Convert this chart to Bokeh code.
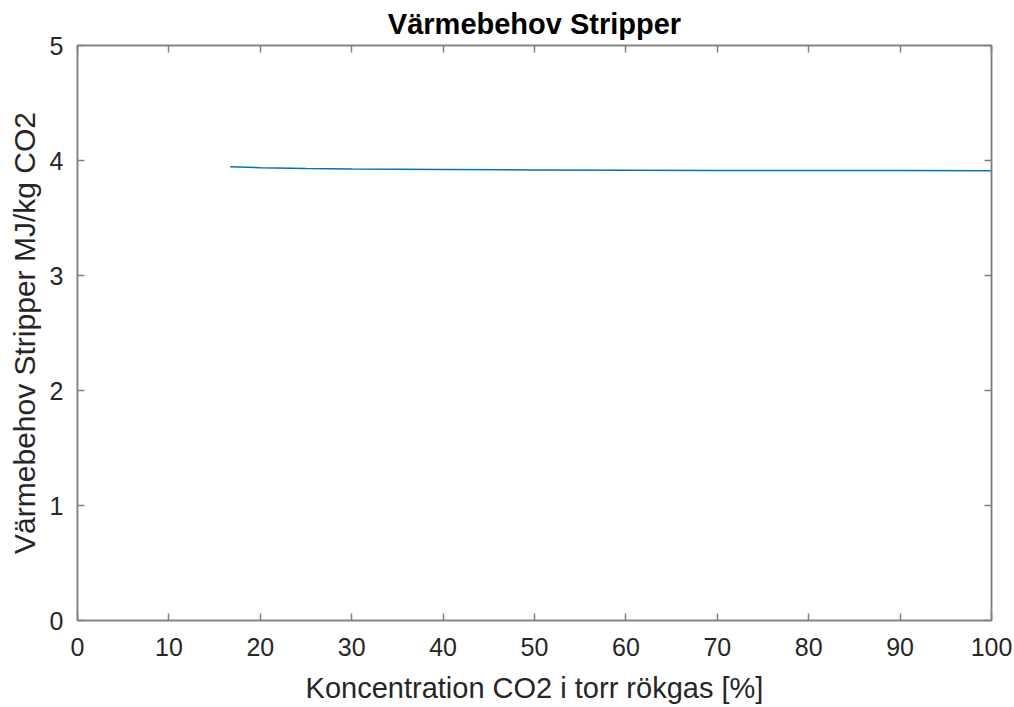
from bokeh.plotting import figure
from bokeh.models import LinearAxis, Range1d, FixedTicker
from bokeh.embed import file_html
from bokeh.resources import INLINE

title_text = "Värmebehov Stripper"
x_label = "Koncentration CO2 i torr rökgas [%]"
y_label = "Värmebehov Stripper MJ/kg CO2"

conc = [16.7, 20, 25, 30, 40, 50, 60, 70, 80, 90, 100]
heat = [3.945, 3.937, 3.930, 3.926, 3.921, 3.918, 3.916, 3.914, 3.913, 3.912, 3.911]

x_ticks = [0, 10, 20, 30, 40, 50, 60, 70, 80, 90, 100]
y_ticks = [0, 1, 2, 3, 4, 5]

FONT = "Liberation Sans"
TXT = "#262626"
AX = "#7f7f7f"

p = figure(frame_width=914, frame_height=575, output_backend="svg", toolbar_location=None,
           x_range=Range1d(0, 100), y_range=Range1d(0, 5),
           min_border_left=77, min_border_right=23, min_border_top=44, min_border_bottom=88,
           x_axis_location=None, y_axis_location=None)
p.title.text = title_text
p.title.align = "center"
p.title.text_font = FONT
p.title.text_font_size = "29px"
p.title.text_font_style = "bold"
p.title.text_color = "#000000"
p.title.standoff = 11

p.grid.visible = False
p.outline_line_color = AX
p.outline_line_width = 1.5
p.background_fill_color = "white"
p.border_fill_color = "white"

def style(ax, labels=True):
    ax.axis_line_color = AX
    ax.axis_line_width = 1.5
    ax.major_tick_in = 7
    ax.major_tick_out = 0
    ax.major_tick_line_color = AX
    ax.major_tick_line_width = 1.5
    ax.minor_tick_line_color = None
    ax.major_label_text_font = FONT
    ax.major_label_text_color = TXT
    if labels:
        ax.major_label_text_font_size = "25px"
    else:
        ax.major_label_text_font_size = "0px"
        ax.major_label_standoff = 0

xb = LinearAxis(ticker=FixedTicker(ticks=x_ticks), axis_label=x_label)
style(xb)
xb.major_label_standoff = 17
xb.axis_label_text_font = FONT
xb.axis_label_text_font_size = "29px"
xb.axis_label_text_font_style = "normal"
xb.axis_label_text_color = TXT
xb.axis_label_standoff = 13
p.add_layout(xb, "below")

yl = LinearAxis(ticker=FixedTicker(ticks=y_ticks), axis_label=y_label)
style(yl)
yl.major_label_standoff = 14
yl.axis_label_text_font = FONT
yl.axis_label_text_font_size = "30px"
yl.axis_label_text_font_style = "normal"
yl.axis_label_text_color = TXT
yl.axis_label_standoff = 6
p.add_layout(yl, "left")

xt = LinearAxis(ticker=FixedTicker(ticks=x_ticks))
style(xt, labels=False)
p.add_layout(xt, "above")

yr = LinearAxis(ticker=FixedTicker(ticks=y_ticks))
style(yr, labels=False)
p.add_layout(yr, "right")

p.line(conc, heat, line_color="#0072BD", line_width=1.5)

open("out.html", "w").write(file_html(p, INLINE))
